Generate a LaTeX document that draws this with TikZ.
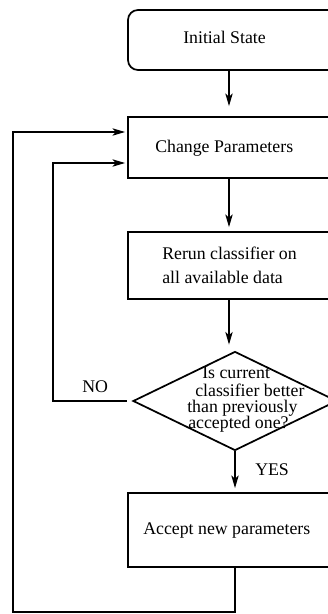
\documentclass[tikz,border=0pt]{standalone}
\usepackage{fontspec}
\setmainfont{Liberation Serif}
\usetikzlibrary{arrows.meta,shapes.geometric}

\begin{document}
\begin{tikzpicture}[x=0.75pt,y=0.75pt,yscale=-1,xscale=1,
	box/.style={draw,line width=1.3pt,minimum width=151.5pt,inner sep=0pt},
	test/.style={draw,diamond,line width=1.3pt,minimum width=153pt,minimum height=74.25pt,inner sep=0pt},
	lbl/.style={anchor=base west,inner sep=0pt,font=\fontsize{13.35}{16}\selectfont},
	flow/.style={line width=1.3pt,-{Stealth[length=9.5pt,width=5.5pt,inset=2.5pt]}}]
	\useasboundingbox (0,0) rectangle (328,614);
	\clip (0,0) rectangle (328,614);
	% boxes (cut off at the right edge)
	\node [box,rounded corners=7.5pt,minimum width=168pt,minimum height=45pt] (init) at (240,40) {};
	\node [box,minimum height=45.75pt] (chg) at (229,147.5) {};
	\node [box,minimum height=50.25pt] (rerun) at (229,265.5) {};
	\node [test] (dia) at (235,401) {};
	\node [box,minimum height=55.5pt] (acc) at (229,530) {};
	% texts
	\draw (183,43) node [lbl] (tinit) {Initial State};
	\draw (155,152) node [lbl] (tchg) {Change Parameters};
	\draw (162,259) node [lbl] (trerun1) {Rerun classifier on};
	\draw (162,283) node [lbl] (trerun2) {all available data};
	\draw (202,378) node [lbl] (tdia1) {Is current};
	\draw (195,396) node [lbl] (tdia2) {classifier better};
	\draw (187,412) node [lbl] (tdia3) {than previously};
	\draw (188,428) node [lbl] (tdia4) {accepted one?};
	\draw (143,534) node [lbl] (tacc) {Accept new parameters};
	\draw (82,392) node [lbl] (tno) {NO};
	\draw (255,475) node [lbl] (tyes) {YES};
	% loop corners
	\coordinate (obot) at (13,612);
	\coordinate (otop) at (13,132);
	\coordinate (itop) at (53,163);
	% connectors
	\draw [flow,shorten >=7.5pt] (init.south -| chg.north) -- (chg.north);
	\draw [flow,shorten >=3pt] (chg.south) -- (rerun.north);
	\draw [flow,shorten >=4.5pt] (rerun.south) -- (rerun.south |- dia.north);
	\draw [flow,shorten >=3pt] (dia.south) -- (acc.north -| dia.south);
	\draw [flow,shorten >=1.5pt] (acc.south -| dia.south) |- (obot) -- (otop) -- (otop -| chg.west);
	\draw [flow,shorten <=4pt,shorten >=1.5pt] (dia.west) -| (itop) -- (itop -| chg.west);
\end{tikzpicture}
\end{document}
